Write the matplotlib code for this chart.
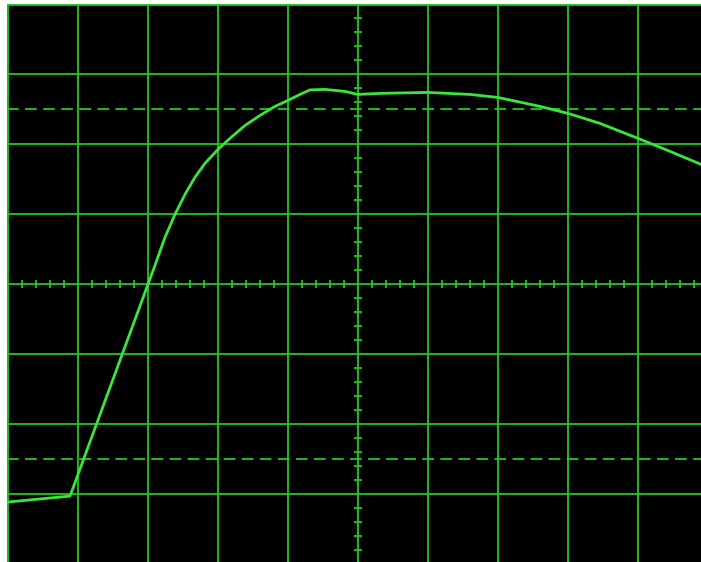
import numpy as np
import matplotlib
matplotlib.use("Agg")
import matplotlib.pyplot as plt

# Trace samples in screen divisions (x: time divs from centre, y: volt divs from centre)
trace_x = [-5.0, -4.114, -3.0, -2.9, -2.757, -2.614, -2.471, -2.329, -2.186, -2.0,
           -1.829, -1.614, -1.4, -1.186, -1.0, -0.829, -0.686, -0.471, -0.186, 0.0,
           0.314, 1.0, 1.6, 2.0, 2.6, 3.0, 3.457, 4.0, 4.457, 4.9]
trace_y = [-3.114, -3.029, 0.0, 0.271, 0.671, 1.0, 1.286, 1.529, 1.729, 1.929,
           2.086, 2.271, 2.414, 2.543, 2.629, 2.714, 2.779, 2.786, 2.757, 2.714,
           2.729, 2.743, 2.714, 2.671, 2.543, 2.443, 2.3, 2.086, 1.9, 1.714]

# Graticule: 10 x 8 divisions, 5 minor ticks per division on the centre axes
x_divs = list(range(-5, 6))
y_divs = list(range(-4, 5))
ref_levels = [2.5, -2.5]

GRID = "#22c822"
TRACE = "#3be63b"

fig = plt.figure(figsize=(7.01, 5.62), dpi=100, facecolor="white")
W, H = 701, 562
left_px, top_px = 7, 4
ax = fig.add_axes([left_px / W, 0, 1 - left_px / W, 1 - top_px / H])
ax.set_facecolor("black")
px = 1 / 70.0
ax.set_xlim(-5 - 1 * px, (701 - 358) * px)
ax.set_ylim(-(562 - 284) * px, 4 + 0.5 * px)
for s in ax.spines.values():
    s.set_visible(False)
ax.set_xticks([])
ax.set_yticks([])

for xv in x_divs:
    ax.axvline(xv, color=GRID, lw=1.3, zorder=1)
for yv in y_divs:
    ax.axhline(yv, color=GRID, lw=1.3 if yv != 4 else 2.0, zorder=1)
for yv in ref_levels:
    ax.axhline(yv, color=GRID, lw=1.3, dashes=(6.5, 3.5), zorder=1)

# minor ticks along the centre lines
minor = np.arange(-5, 5.01, 0.2)
minor = minor[np.abs(minor - np.round(minor)) > 1e-6]
ax.vlines(minor, -4 * px, 4 * px, color=GRID, lw=1.3, zorder=1)
minor_y = np.arange(-4, 4.01, 0.2)
minor_y = minor_y[np.abs(minor_y - np.round(minor_y)) > 1e-6]
ax.hlines(minor_y, -4 * px, 4 * px, color=GRID, lw=1.3, zorder=1)

ax.plot(trace_x, trace_y, color=TRACE, lw=2.0, solid_joinstyle="round", zorder=3)

fig.savefig("out.png", dpi=100, facecolor="white")
